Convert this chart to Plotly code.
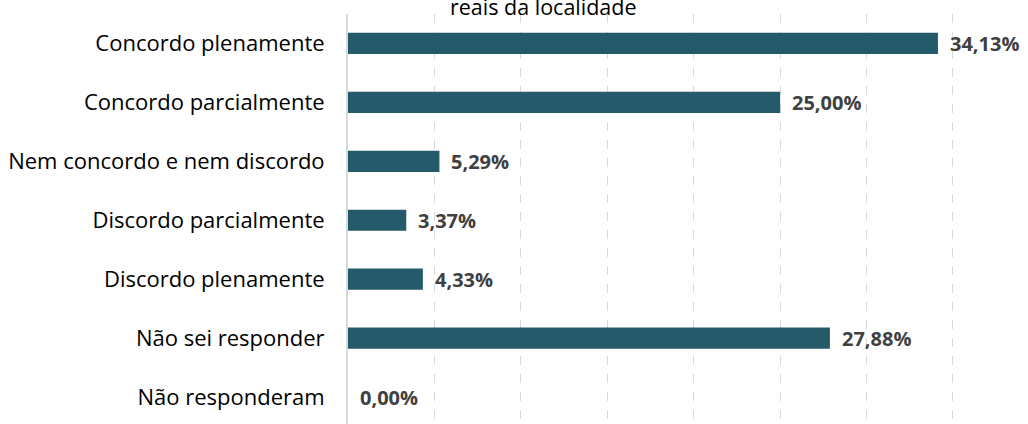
import plotly.graph_objects as go

categories = ["Concordo plenamente", "Concordo parcialmente", "Nem concordo e nem discordo",
              "Discordo parcialmente", "Discordo plenamente", "Não sei responder", "Não responderam"]
values = [34.13, 25.00, 5.29, 3.37, 4.33, 27.88, 0.00]
labels = [f"{v:.2f}%".replace(".", ",") for v in values]
title_visible = "reais da localidade"

BAR = "#245a69"
FONT = "Open Sans"

fig = go.Figure(go.Bar(
    y=categories, x=values, orientation="h",
    marker=dict(color=BAR, line=dict(width=0)),
    width=0.36, hoverinfo="skip",
))

for c, v, t in zip(categories, values, labels):
    fig.add_annotation(x=v, y=c, text=t, showarrow=False, xanchor="left",
                       xshift=10, font=dict(family=FONT, size=20, color="#404040", weight="bold"))

fig.add_annotation(x=0.288, xref="paper", y=1.0, yref="paper", yshift=-9.5, text=title_visible,
                   showarrow=False, xanchor="center", yanchor="bottom",
                   font=dict(family=FONT, size=21.5, color="#000000"))

fig.update_layout(
    width=1028, height=424,
    margin=dict(l=348, r=0, t=13.5, b=0, autoexpand=False),
    paper_bgcolor="white", plot_bgcolor="white",
    showlegend=False,
    font=dict(family=FONT, size=22, color="#000000"),
    xaxis=dict(range=[0, 39.34], dtick=5, showticklabels=False, showgrid=True, automargin=False,
               gridcolor="#d9d9d9", griddash="dash", gridwidth=1, zeroline=False, ticks=""),
    yaxis=dict(range=[6.458, -0.5], showline=True, linecolor="#d9d9d9", linewidth=2, automargin=False,
               ticks="", ticklabelstandoff=17, tickfont=dict(family=FONT, size=22, color="#000000")),
)

fig.write_html("out.html", config={"displayModeBar": False},
               post_script="document.body.style.margin='0px';document.body.style.overflow='hidden';")
